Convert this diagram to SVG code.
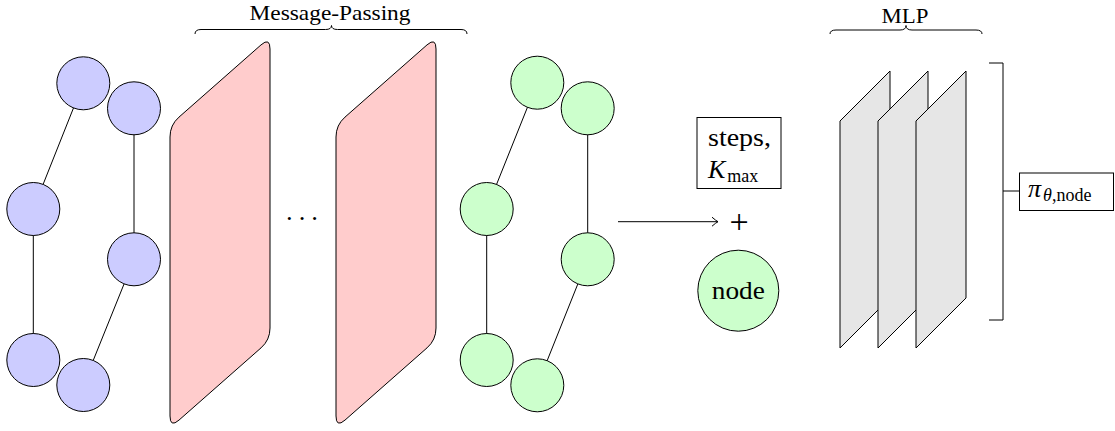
<svg xmlns="http://www.w3.org/2000/svg" width="1115" height="431" viewBox="0 0 1115 431">
<style>
.edge{stroke:#000;stroke-width:1;fill:none}
.blue{fill:#ccccff;stroke:#000;stroke-width:1}
.green{fill:#ccffcc;stroke:#000;stroke-width:1}
.red{fill:#ffcccc;stroke:#000;stroke-width:1}
.gray{fill:#e6e6e6;stroke:#000;stroke-width:1}
.box{fill:#fff;stroke:#000;stroke-width:1}
.brace{fill:none;stroke:#000;stroke-width:1}
text{font-family:"Liberation Serif","DejaVu Serif",serif;fill:#000}
.lbl{font-size:21px}
.big{font-size:26px}
.sub{font-size:18px}
</style>
<defs>
<marker id="to" markerUnits="userSpaceOnUse" markerWidth="12" markerHeight="12" refX="1" refY="6" orient="auto" overflow="visible">
<path d="M -5,1.5 Q -1,5 1,6 Q -1,7 -5,10.5" fill="none" stroke="#000" stroke-width="1"/>
</marker>
<path id="redpara" d="M 170,137 Q 170,125 179,117.1 L 261,44.9 Q 270,37 270,49 L 270,328 Q 270,340 261,347.9 L 179,420.1 Q 170,428 170,416 Z"/>
</defs>

<g id="connectors">
<line class="edge" x1="83.3" y1="83.3" x2="33.3" y2="209"/>
<line class="edge" x1="134" y1="108.3" x2="134" y2="259.3"/>
<line class="edge" x1="33.3" y1="209" x2="33.3" y2="360"/>
<line class="edge" x1="134" y1="259.3" x2="83.3" y2="385"/>
<line class="edge" x1="537.3" y1="82.7" x2="486.7" y2="209"/>
<line class="edge" x1="587.7" y1="108.3" x2="587.7" y2="259.3"/>
<line class="edge" x1="486.7" y1="209" x2="486.7" y2="360"/>
<line class="edge" x1="587.7" y1="259.3" x2="537.3" y2="385.3"/>
<line class="edge" x1="618" y1="221.7" x2="718" y2="221.7" marker-end="url(#to)"/>
<path class="edge" d="M 989,63 L 1003,63 L 1003,320 L 989,320 M 1003,191 L 1019,191"/>
</g>

<g id="input-graph">
<circle id="in-a" class="blue" cx="83.3" cy="83.3" r="26.5"/>
<circle id="in-b" class="blue" cx="134" cy="108.3" r="26.5"/>
<circle id="in-c" class="blue" cx="33.3" cy="209" r="26.5"/>
<circle id="in-d" class="blue" cx="134" cy="259.3" r="26.5"/>
<circle id="in-e" class="blue" cx="33.3" cy="360" r="26.5"/>
<circle id="in-f" class="blue" cx="83.3" cy="385" r="26.5"/>
</g>

<g id="mp-layer-1"><use href="#redpara" class="red"/></g>
<g id="mp-dots"><text class="big" x="304" y="227" text-anchor="middle" letter-spacing="4">···</text></g>
<g id="mp-layer-2"><use href="#redpara" class="red" transform="translate(166,0)"/></g>

<g id="mp-brace">
<path class="brace" d="M 195,34 Q 195,29.5 201,29.5 L 325.5,29.5 Q 331.5,29.5 331.5,25.5 Q 331.5,29.5 337.5,29.5 L 461,29.5 Q 467,29.5 467,34"/>
<text class="lbl" x="330" y="19.5" text-anchor="middle" textLength="161" lengthAdjust="spacingAndGlyphs">Message-Passing</text>
</g>

<g id="output-graph">
<circle id="out-a" class="green" cx="537.3" cy="82.7" r="26.5"/>
<circle id="out-b" class="green" cx="587.7" cy="108.3" r="26.5"/>
<circle id="out-c" class="green" cx="486.7" cy="209" r="26.5"/>
<circle id="out-d" class="green" cx="587.7" cy="259.3" r="26.5"/>
<circle id="out-e" class="green" cx="486.7" cy="360" r="26.5"/>
<circle id="out-f" class="green" cx="537.3" cy="385.3" r="26.5"/>
</g>

<g id="steps-box">
<rect class="box" x="697" y="117.5" width="84" height="71"/>
<text class="big" x="739.5" y="146" text-anchor="middle" textLength="63" lengthAdjust="spacingAndGlyphs">steps,</text>
<text x="708" y="178"><tspan class="big" font-style="italic">K</tspan><tspan class="sub" dy="4" dx="2">max</tspan></text>
</g>

<g id="plus"><text x="739" y="233" text-anchor="middle" font-size="34">+</text></g>

<g id="node-circle">
<circle class="green" cx="738.3" cy="290.7" r="40.5"/>
<text class="big" x="738.3" y="298.5" text-anchor="middle" textLength="53" lengthAdjust="spacingAndGlyphs">node</text>
</g>

<g id="mlp-layer-1"><polygon class="gray" points="840,121 890,71 890,298 840,348"/></g>
<g id="mlp-layer-2"><polygon class="gray" points="878,121 928,71 928,298 878,348"/></g>
<g id="mlp-layer-3"><polygon class="gray" points="916,121 966,71 966,298 916,348"/></g>

<g id="mlp-brace">
<path class="brace" d="M 830,34 Q 830,30 836,30 L 900,30 Q 906,30 906,25.5 Q 906,30 912,30 L 976,30 Q 982,30 982,34"/>
<text class="lbl" x="905" y="22.5" text-anchor="middle" textLength="47" lengthAdjust="spacingAndGlyphs">MLP</text>
</g>

<g id="policy-box">
<rect class="box" x="1019.5" y="173" width="94" height="37.5"/>
<text x="1028" y="197"><tspan class="big" font-style="italic">π</tspan><tspan class="sub" dy="4" dx="2"><tspan font-style="italic">θ</tspan>,node</tspan></text>
</g>
</svg>
